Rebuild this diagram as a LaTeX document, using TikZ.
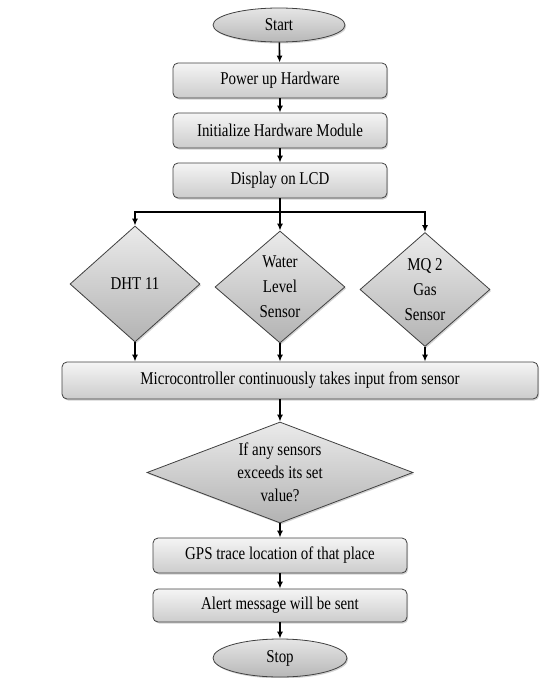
\documentclass[tikz,border=0pt]{standalone}
\usepackage{fontspec}
\setmainfont[FakeStretch=0.83]{Liberation Serif}
\usetikzlibrary{shapes.geometric,arrows.meta,shadows}
\begin{document}
\begin{tikzpicture}[x=1pt,y=-1pt,
  base/.style={draw=black!75, line width=0.8pt, inner sep=0pt, align=center,
    font=\fontsize{18}{25}\selectfont,
    drop shadow={shadow xshift=1.2pt, shadow yshift=-1.5pt, opacity=0.35}},
  procbox/.style={base, rectangle, rounded corners=5pt, top color=black!4, bottom color=black!20},
  termnode/.style={base, ellipse, top color=black!10, bottom color=black!28},
  decnode/.style={base, diamond, top color=black!8, bottom color=black!30},
  flow/.style={line width=1.6pt, -{Latex[length=7pt,width=6pt]}},
  plain/.style={line width=1.6pt}]
\useasboundingbox (0,0) rectangle (554,678);

\node[termnode, minimum width=132pt, minimum height=34pt] (start) at (279,25) {Start};
\node[procbox, minimum width=214pt, minimum height=35pt] (power) at (280,80.5) {Power up Hardware};
\node[procbox, minimum width=214pt, minimum height=35pt] (init) at (280,130.5) {Initialize Hardware Module};
\node[procbox, minimum width=214pt, minimum height=35pt] (disp) at (280,180.5) {Display on LCD};
\coordinate (split) at (280,212);

\node[decnode, aspect=1.12, minimum width=130pt, minimum height=116pt] (dht) at (135,284) {DHT 11};
\node[decnode, aspect=1.12, minimum width=130pt, minimum height=112pt] (water) at (280,287) {Water\\Level\\Sensor};
\node[decnode, aspect=1.12, minimum width=130pt, minimum height=114pt] (mq) at (425,289.5) {MQ 2\\Gas\\Sensor};

\node[procbox, minimum width=476pt, minimum height=37pt] (micro) at (300,380.5) {Microcontroller continuously takes input from sensor};

\node[decnode, aspect=2.63, minimum width=266pt, minimum height=101pt, font=\fontsize{18}{23}\selectfont] (dec) at (280,472.5) {If any sensors\\exceeds its set\\value?};

\node[procbox, minimum width=254pt, minimum height=35pt] (gps) at (280,555.5) {GPS trace location of that place};
\node[procbox, minimum width=254pt, minimum height=33pt] (alert) at (280,605.5) {Alert message will be sent};
\node[termnode, minimum width=134pt, minimum height=38pt] (stop) at (280,658) {Stop};

\draw[flow] (start) -- (power);
\draw[flow] (power) -- (init);
\draw[flow] (init) -- (disp);
\draw[plain] (disp.south) -- (split);
\draw[flow] (split) -| (dht.north);
\draw[flow] (split) -- (water.north);
\draw[flow] (split) -| (mq.north);
\draw[flow] (dht.south) -- (dht.south |- micro.north);
\draw[flow] (water.south) -- (water.south |- micro.north);
\draw[flow] (mq.south) -- (mq.south |- micro.north);
\draw[flow] (micro.south -| dec.north) -- (dec.north);
\draw[flow] (dec.south) -- (gps.north);
\draw[flow] (gps) -- (alert);
\draw[flow] (alert) -- (stop);
\end{tikzpicture}
\end{document}
